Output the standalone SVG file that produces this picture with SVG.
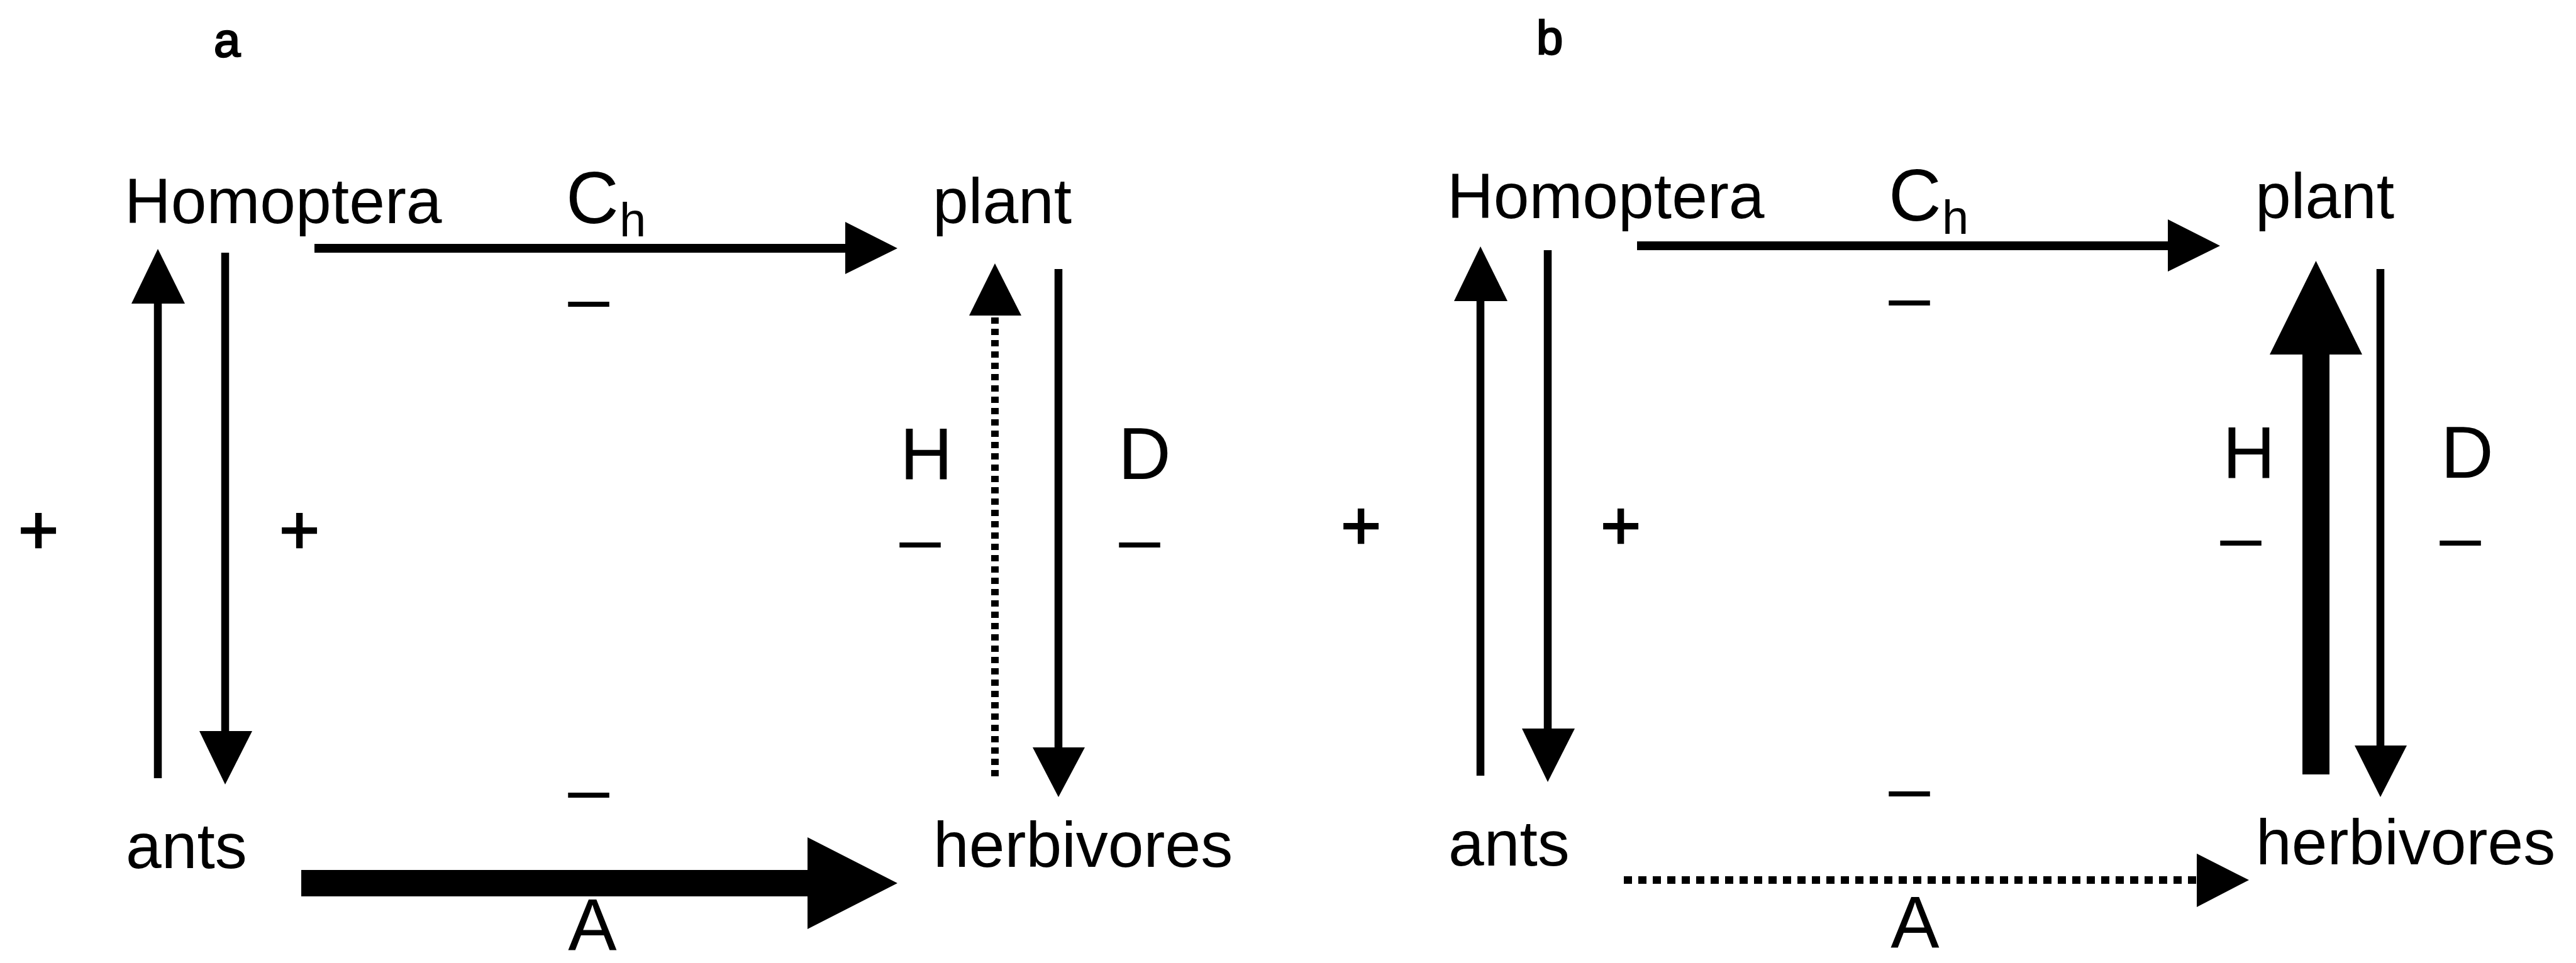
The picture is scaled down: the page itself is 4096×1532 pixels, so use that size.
<svg xmlns="http://www.w3.org/2000/svg" width="4096" height="1532" viewBox="0 0 4096 1532">
<style>
text{font-family:"Liberation Sans",Arial,Helvetica,sans-serif;fill:#000}
.node{font-size:102px}
.lbl{font-size:116px}
.sub{font-size:76px}
.pl{font-size:110px;text-anchor:middle;stroke:#000;stroke-width:2.5}
.mn{font-size:118px;text-anchor:middle}
.panel{font-size:76px;stroke:#000;stroke-width:2.5}
.ln{stroke:#000;fill:none;stroke-width:12.5}
.lnc{stroke:#000;fill:none;stroke-width:14}
.head{fill:#000;stroke:none}
.dotv{stroke:#000;fill:none;stroke-width:12;stroke-dasharray:10 8}
.doth{stroke:#000;fill:none;stroke-width:12;stroke-dasharray:13 10}
</style>
<rect width="4096" height="1532" fill="#fff"/>

<g id="panel-a">
  <text class="panel" x="340" y="90">a</text>
  <g id="a-homoptera"><text class="node" x="198" y="355">Homoptera</text></g>
  <g id="a-plant"><text class="node" x="1483" y="355">plant</text></g>
  <g id="a-ants"><text class="node" x="200" y="1381">ants</text></g>
  <g id="a-herbivores"><text class="node" x="1484" y="1379">herbivores</text></g>
  <g id="a-connectors">
    <g id="a-ants-to-homoptera"><line class="ln" x1="251" y1="1238" x2="251" y2="478"/><polygon class="head" points="251,396 209,483 294,483"/></g>
    <g id="a-homoptera-to-ants"><line class="ln" x1="358" y1="402" x2="358" y2="1168"/><polygon class="head" points="317,1163 401,1163 358,1248"/></g>
    <g id="a-homoptera-to-plant"><line class="lnc" x1="500" y1="395" x2="1350" y2="395"/><polygon class="head" points="1344,353 1427,395 1344,436"/></g>
    <g id="a-herbivores-to-plant"><line class="dotv" x1="1582" y1="1235" x2="1582" y2="502"/><polygon class="head" points="1582,419 1541,502 1624,502"/></g>
    <g id="a-plant-to-herbivores"><line class="ln" x1="1683" y1="428" x2="1683" y2="1194"/><polygon class="head" points="1642,1189 1725,1189 1683,1268"/></g>
    <g id="a-ants-to-herbivores"><polygon class="head" points="479,1384 1284,1384 1284,1332 1427,1405 1284,1478 1284,1426 479,1426"/></g>
  </g>
  <g id="a-labels">
    <text class="lbl" x="900" y="355">C</text><text class="sub" x="985" y="376">h</text>
    <text class="mn" x="936" y="514">–</text>
    <text class="pl" x="61" y="881">+</text>
    <text class="pl" x="476" y="881">+</text>
    <text class="lbl" x="1431" y="762">H</text>
    <text class="lbl" x="1778" y="762">D</text>
    <text class="mn" x="1463" y="897">–</text>
    <text class="mn" x="1812" y="897">–</text>
    <text class="mn" x="936" y="1295">–</text>
    <text class="lbl" x="942" y="1512" text-anchor="middle">A</text>
  </g>
</g>

<g id="panel-b" transform="translate(2103,-4)">
  <text class="panel" x="340" y="90">b</text>
  <g id="b-homoptera"><text class="node" x="198" y="351">Homoptera</text></g>
  <g id="b-plant"><text class="node" x="1483" y="351">plant</text></g>
  <g id="b-ants"><text class="node" x="200" y="1381">ants</text></g>
  <g id="b-herbivores"><text class="node" x="1484" y="1379">herbivores</text></g>
  <g id="b-connectors">
    <g id="b-ants-to-homoptera"><line class="ln" x1="251" y1="1238" x2="251" y2="478"/><polygon class="head" points="251,396 209,483 294,483"/></g>
    <g id="b-homoptera-to-ants"><line class="ln" x1="358" y1="402" x2="358" y2="1168"/><polygon class="head" points="317,1163 401,1163 358,1248"/></g>
    <g id="b-homoptera-to-plant"><line class="lnc" x1="500" y1="395" x2="1350" y2="395"/><polygon class="head" points="1344,353 1427,395 1344,436"/></g>
    <g id="b-herbivores-to-plant"><polygon class="head" points="1558,1236 1558,568 1506,568 1579.5,419 1653,568 1601,568 1601,1236"/></g>
    <g id="b-plant-to-herbivores"><line class="ln" x1="1682" y1="432" x2="1682" y2="1194"/><polygon class="head" points="1641,1190 1724,1190 1682,1272"/></g>
    <g id="b-ants-to-herbivores"><line class="doth" x1="479" y1="1404" x2="1390" y2="1404"/><polygon class="head" points="1390,1362 1473,1404 1390,1447"/></g>
  </g>
  <g id="b-labels">
    <text class="lbl" x="900" y="355">C</text><text class="sub" x="985" y="376">h</text>
    <text class="mn" x="933" y="516">–</text>
    <text class="pl" x="61" y="878">+</text>
    <text class="pl" x="474" y="878">+</text>
    <text class="lbl" x="1431" y="764">H</text>
    <text class="lbl" x="1778" y="764">D</text>
    <text class="mn" x="1460" y="898">–</text>
    <text class="mn" x="1809" y="898">–</text>
    <text class="mn" x="933" y="1297">–</text>
    <text class="lbl" x="942" y="1512" text-anchor="middle">A</text>
  </g>
</g>
</svg>
